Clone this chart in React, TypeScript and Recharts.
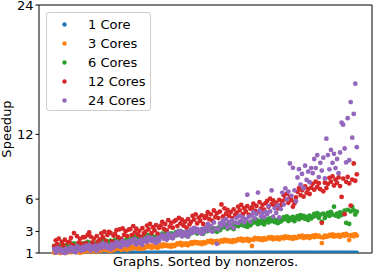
import { ScatterChart, Scatter, XAxis, YAxis, Legend, ReferenceLine } from 'recharts';

const seriesNames = ['1 Core', '3 Cores', '6 Cores', '12 Cores', '24 Cores'];
const seriesColors = ['#1f77b4', '#ff7f0e', '#2ca02c', '#d62728', '#9467bd'];
const yTicks = [1, 3, 6, 12, 24];
const xDomain = [-10, 209];

// graphs sorted by nonzeros, speedup per core count
const core1 = [
  1, 1, 1, 1, 1, 1, 1, 1, 1, 1, 1, 1, 1, 1, 1, 1, 1, 1, 1, 1,
  1, 1, 1, 1, 1, 1, 1, 1, 1, 1, 1, 1, 1, 1, 1, 1, 1, 1, 1, 1,
  1, 1, 1, 1, 1, 1, 1, 1, 1, 1, 1, 1, 1, 1, 1, 1, 1, 1, 1, 1,
  1, 1, 1, 1, 1, 1, 1, 1, 1, 1, 1, 1, 1, 1, 1, 1, 1, 1, 1, 1,
  1, 1, 1, 1, 1, 1, 1, 1, 1, 1, 1, 1, 1, 1, 1, 1, 1, 1, 1, 1,
  1, 1, 1, 1, 1, 1, 1, 1, 1, 1, 1, 1, 1, 1, 1, 1, 1, 1, 1, 1,
  1, 1, 1, 1, 1, 1, 1, 1, 1, 1, 1, 1, 1, 1, 1, 1, 1, 1, 1, 1,
  1, 1, 1, 1, 1, 1, 1, 1, 1, 1, 1, 1, 1, 1, 1, 1, 1, 1, 1, 1,
  1, 1, 1, 1, 1, 1, 1, 1, 1, 1, 1, 1, 1, 1, 1, 1, 1, 1, 1, 1,
  1, 1, 1, 1, 1, 1, 1, 1, 1, 1, 1, 1, 1, 1, 1, 1, 1, 1, 1, 1,
];

const core3 = [
  1.02, 1.15, 1.07, 1.19, 1.0, 1.12, 1.04, 1.16, 1.01, 1.1,
  1.19, 1.06, 1.24, 1.12, 1.2, 1.07, 1.15, 1.02, 1.21, 1.09,
  1.16, 1.29, 1.21, 1.33, 1.12, 1.26, 1.18, 1.3, 1.11, 1.24,
  1.36, 1.23, 1.41, 1.29, 1.37, 1.24, 1.32, 1.19, 1.38, 1.26,
  1.34, 1.47, 1.39, 1.51, 1.3, 1.44, 1.36, 1.48, 1.29, 1.42,
  1.54, 1.41, 1.59, 1.47, 1.55, 1.42, 1.5, 1.37, 1.56, 1.44,
  1.52, 1.65, 1.57, 1.69, 1.48, 1.62, 1.54, 1.66, 1.47, 1.6,
  1.74, 1.61, 1.79, 1.67, 1.75, 1.62, 1.7, 1.57, 1.76, 1.64,
  1.76, 1.89, 1.81, 1.93, 1.72, 1.86, 1.78, 1.9, 1.71, 1.84,
  1.99, 1.86, 2.04, 1.92, 2.0, 1.87, 1.95, 1.82, 2.01, 1.89,
  1.98, 2.11, 2.03, 2.15, 1.94, 2.08, 2.0, 2.12, 1.93, 2.06,
  2.18, 2.05, 2.23, 2.11, 2.19, 2.06, 2.14, 2.01, 2.2, 2.08,
  2.16, 2.29, 2.21, 2.33, 2.12, 2.26, 2.18, 2.3, 2.11, 2.24,
  1.65, 2.23, 2.41, 2.29, 2.37, 2.24, 2.32, 2.19, 2.38, 2.26,
  2.31, 2.44, 2.36, 2.48, 2.27, 2.41, 2.33, 2.45, 2.26, 2.39,
  2.48, 2.35, 2.53, 2.41, 2.49, 2.36, 2.44, 2.31, 2.5, 2.38,
  2.43, 2.56, 2.48, 2.6, 2.39, 2.53, 2.45, 2.57, 2.38, 2.51,
  2.6, 2.47, 2.65, 2.53, 2.61, 2.48, 1.92, 2.43, 2.62, 2.5,
  2.55, 2.68, 2.6, 2.72, 2.51, 2.65, 2.57, 2.69, 2.5, 2.63,
  2.72, 2.59, 2.77, 2.65, 2.2, 2.6, 2.68, 2.55, 2.74, 2.62,
];

const core6 = [
  1.65, 1.37, 1.75, 1.5, 1.67, 1.4, 1.58, 1.3, 1.7, 1.45,
  1.55, 1.82, 1.64, 1.89, 1.47, 1.75, 1.59, 1.85, 1.45, 1.72,
  1.92, 1.64, 2.02, 1.77, 1.94, 1.67, 1.85, 1.57, 1.97, 1.72,
  1.85, 2.12, 1.94, 2.19, 1.77, 2.05, 1.89, 2.15, 1.75, 2.02,
  2.22, 1.94, 2.32, 2.07, 2.24, 1.97, 2.15, 1.87, 2.27, 2.02,
  2.16, 2.43, 2.25, 2.5, 2.08, 2.36, 2.2, 2.46, 2.06, 2.33,
  2.56, 2.28, 2.66, 2.41, 2.58, 2.31, 2.49, 2.21, 2.61, 2.36,
  2.52, 2.79, 2.61, 2.86, 2.44, 2.72, 2.56, 2.82, 2.42, 2.69,
  2.93, 2.65, 3.03, 2.78, 2.95, 2.68, 2.86, 2.58, 2.98, 2.73,
  2.88, 3.15, 2.97, 3.22, 2.8, 3.08, 2.92, 3.18, 2.78, 3.05,
  3.31, 3.03, 3.41, 3.16, 3.33, 3.06, 3.24, 2.96, 3.36, 3.11,
  3.32, 3.59, 3.41, 3.66, 3.24, 3.52, 3.36, 3.62, 3.22, 3.49,
  3.77, 3.49, 3.87, 3.62, 3.79, 3.52, 3.7, 3.42, 3.82, 3.57,
  3.75, 4.02, 3.84, 4.09, 3.67, 3.95, 3.79, 4.05, 3.65, 3.92,
  4.12, 3.84, 4.22, 3.97, 4.14, 3.87, 4.05, 3.77, 4.17, 3.92,
  4.05, 4.32, 4.14, 4.39, 3.97, 4.25, 4.09, 4.35, 3.95, 4.22,
  4.41, 4.13, 4.51, 4.26, 4.43, 4.16, 4.34, 4.06, 4.46, 4.21,
  4.35, 4.62, 4.44, 4.69, 4.27, 4.55, 3.9, 4.65, 4.25, 4.52,
  4.72, 4.44, 4.82, 4.57, 5.3, 4.47, 4.65, 4.37, 4.77, 4.52,
  4.66, 4.93, 3.8, 5.0, 3.7, 4.86, 5.3, 4.96, 4.56, 4.83,
];

const core12 = [
  1.63, 2.18, 1.83, 2.33, 1.48, 2.03, 1.73, 2.23, 1.43, 1.98,
  2.06, 2.41, 1.76, 2.85, 1.61, 2.56, 1.96, 2.31, 1.86, 2.46,
  2.47, 1.92, 2.67, 2.9, 2.52, 1.97, 2.32, 1.77, 2.57, 2.07,
  2.27, 2.82, 2.47, 2.97, 2.12, 2.67, 2.95, 2.87, 2.07, 2.62,
  2.77, 3.12, 2.47, 3.2, 2.32, 3.27, 2.67, 3.02, 2.57, 3.17,
  3.21, 2.66, 3.5, 2.91, 3.26, 2.71, 3.06, 2.51, 3.31, 2.81,
  2.99, 3.54, 3.19, 3.69, 2.84, 3.39, 3.09, 3.59, 2.79, 3.34,
  3.54, 3.89, 3.24, 3.69, 3.09, 4.04, 3.44, 3.79, 3.34, 3.94,
  4.05, 3.5, 4.25, 3.75, 4.1, 3.55, 3.9, 3.35, 4.15, 3.65,
  3.89, 4.44, 4.09, 4.59, 3.74, 4.29, 3.99, 4.49, 3.69, 4.24,
  4.44, 4.79, 4.14, 4.59, 3.99, 4.94, 4.34, 4.69, 4.24, 4.84,
  5.5, 4.39, 5.14, 4.64, 4.99, 4.44, 4.79, 4.24, 5.04, 4.54,
  4.75, 5.3, 4.95, 5.45, 4.6, 5.15, 4.85, 5.35, 4.55, 5.1,
  5.22, 5.57, 4.92, 5.37, 4.77, 5.72, 5.12, 5.47, 5.02, 5.62,
  5.83, 5.28, 6.03, 5.53, 5.88, 5.33, 5.68, 5.13, 5.93, 5.43,
  5.8, 6.35, 6.0, 6.5, 5.65, 6.2, 5.9, 5.3, 5.6, 6.15,
  6.67, 7.02, 6.37, 6.82, 6.22, 7.17, 6.57, 6.92, 6.47, 7.07,
  7.42, 6.87, 7.62, 7.12, 7.47, 6.92, 3.8, 6.72, 7.52, 7.02,
  7.41, 7.96, 7.61, 8.11, 7.26, 7.81, 7.51, 8.01, 7.21, 6.2,
  7.9, 4.6, 7.6, 8.05, 7.45, 5.4, 7.8, 9.3, 7.7, 8.3,
];

const core24 = [
  1.36, 1.03, 1.48, 1.18, 1.39, 1.06, 1.27, 1.0, 1.42, 1.12,
  1.33, 1.54, 1.15, 1.42, 1.06, 1.63, 1.27, 1.48, 1.21, 1.57,
  1.32, 1.65, 1.44, 1.74, 1.23, 1.56, 1.38, 1.68, 1.2, 1.53,
  1.76, 1.43, 1.88, 1.58, 1.79, 1.46, 1.67, 1.34, 1.82, 1.52,
  1.83, 2.04, 1.65, 1.92, 1.56, 2.13, 1.77, 1.98, 1.71, 2.07,
  1.87, 2.2, 1.99, 2.29, 1.78, 2.11, 1.93, 2.23, 1.75, 2.08,
  2.35, 2.02, 2.47, 2.17, 2.38, 2.05, 2.26, 1.93, 2.41, 2.11,
  2.49, 2.7, 2.31, 2.58, 2.22, 2.79, 2.43, 2.64, 2.37, 2.73,
  2.63, 2.96, 2.75, 3.05, 2.54, 2.87, 2.69, 2.99, 2.51, 2.84,
  3.2, 2.87, 3.32, 3.02, 3.23, 2.9, 3.11, 2.78, 3.26, 2.96,
  3.38, 3.7, 3.11, 3.52, 2.98, 3.83, 3.29, 1.85, 3.2, 3.74,
  3.51, 4.0, 3.68, 4.13, 3.37, 3.87, 3.59, 4.05, 3.33, 3.82,
  4.27, 3.77, 4.45, 4.0, 4.31, 3.82, 4.14, 6.4, 4.36, 3.91,
  4.48, 4.8, 4.21, 4.62, 6.6, 4.93, 4.39, 4.7, 4.3, 4.84,
  4.58, 5.35, 4.86, 6.8, 4.37, 5.14, 4.72, 5.42, 4.3, 5.07,
  6.6, 5.5, 7.0, 6.0, 6.7, 9.3, 6.3, 8.9, 6.8, 5.8,
  8.0, 8.77, 7.34, 8.33, 7.01, 9.1, 7.78, 8.55, 7.56, 8.88,
  8.4, 9.72, 8.88, 10.08, 8.04, 9.36, 8.64, 9.84, 7.92, 11.6,
  10.08, 8.76, 10.56, 9.36, 10.2, 8.88, 9.72, 8.4, 10.32, 13.1,
  12.9, 10.69, 9.4, 13.5, 9.6, 15.0, 11.7, 13.9, 16.7, 10.81,
];

const allSeries = [core1, core3, core6, core12, core24];

const toPoints = (values: number[]) => values.map((v, i) => ({ x: i, y: v }));

const R = 2.4;

const dot = (color: string) => (props: any) => (
  <circle cx={props.cx} cy={props.cy} r={R} fill={color} />
);

// points sit on the bottom spine, so only the upper half shows
const halfDot = (color: string) => (props: any) => {
  const { cx, cy } = props;
  return <path d={`M${cx - R},${cy} A${R},${R} 0 0 1 ${cx + R},${cy} Z`} fill={color} />;
};

function LegendBox() {
  return (
    <div
      style={{
        position: 'relative',
        width: 105,
        height: 99,
        boxSizing: 'border-box',
        border: '1px solid #cccccc',
        borderRadius: 3,
        background: 'rgba(255,255,255,0.8)',
        fontSize: 13,
        fontFamily: 'DejaVu Sans',
        color: '#000',
      }}
    >
      {seriesNames.map((name, k) => (
        <div
          key={name}
          style={{ position: 'absolute', left: 0, top: 1.5 + k * 19, height: 19, width: 104, lineHeight: '19px' }}
        >
          <svg width={36} height={19} style={{ position: 'absolute', left: 0, top: 0 }}>
            <circle cx={17.5} cy={9.5} r={2.2} fill={seriesColors[k]} />
          </svg>
          <span style={{ position: 'absolute', left: 41, top: 0, whiteSpace: 'nowrap' }}>{name}</span>
        </div>
      ))}
    </div>
  );
}

export default function App() {
  return (
    <div style={{ position: 'absolute', left: 0, top: 0, fontFamily: 'DejaVu Sans' }}>
      <ScatterChart width={374} height={270} margin={{ top: 5, right: 2, left: 0, bottom: 0 }}>
        <XAxis
          type="number"
          dataKey="x"
          domain={xDomain}
          tick={false}
          tickLine={false}
          height={17}
          axisLine={{ stroke: '#000' }}
          label={{ value: 'Graphs. Sorted by nonzeros.', position: 'insideBottom', offset: 4, fill: '#000', fontSize: 13 }}
        />
        <YAxis
          type="number"
          dataKey="y"
          domain={[1, 24]}
          ticks={yTicks}
          width={39}
          interval={0}
          axisLine={{ stroke: '#000' }}
          tickLine={{ stroke: '#000' }}
          tickSize={3.5}
          tick={{ fill: '#000', fontSize: 13 }}
          label={{ value: 'Speedup', angle: -90, position: 'insideLeft', offset: 6, fill: '#000', fontSize: 13, style: { textAnchor: 'middle' } }}
        />
        <ReferenceLine y={24} stroke="#000" />
        <ReferenceLine x={xDomain[1]} stroke="#000" />
        {allSeries.map((values, k) => (
          <Scatter
            key={seriesNames[k]}
            name={seriesNames[k]}
            data={toPoints(values)}
            fill={seriesColors[k]}
            shape={k === 0 ? halfDot(seriesColors[k]) : dot(seriesColors[k])}
            isAnimationActive={false}
          />
        ))}
        <Legend
          layout="horizontal"
          verticalAlign="middle"
          align="center"
          content={() => <LegendBox />}
          wrapperStyle={{ left: 46, top: 12, width: 105, height: 99 }}
        />
      </ScatterChart>
    </div>
  );
}
